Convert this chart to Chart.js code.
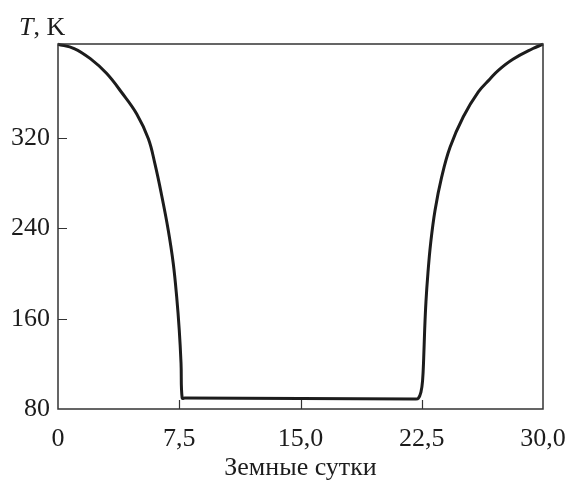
<!DOCTYPE html>
<html>
<head>
<meta charset="utf-8">
<script src="https://cdn.jsdelivr.net/npm/chart.js@4"></script>
<style>
  html, body { margin: 0; padding: 0; background: #fff; }
  #wrap { width: 565px; height: 484px; }
</style>
</head>
<body>
<div id="wrap"><canvas id="tempChart"></canvas></div>
<script>
// Данные
const days = [0, 1, 2, 3, 3.94, 4.87, 5.59, 6.0, 6.41, 6.82, 7.13, 7.34, 7.5, 7.61, 7.68, 7.85,
    15.0, 22.08, 22.29, 22.45, 22.55, 22.62, 22.68, 22.76, 22.88, 23.05, 23.32, 23.73, 24.25,
    25.07, 26.0, 26.72, 27.22, 28.14, 29.38, 30];
const temps = [403.3, 399.5, 390.5, 377.5, 360.5, 341.5, 319.5, 297, 269.5, 238.5, 209, 179.5, 150, 120.5, 89.7, 89.7,
    89.3, 88.9, 89.5, 95, 105, 125, 150, 175, 200, 226.8, 256, 285.5, 312,
    339, 361, 372.5, 380, 390, 399.5, 403.3];
const xTicks = [0, 7.5, 15, 22.5, 30];
const yTicks = [80, 160, 240, 320];

const serif = '"Liberation Serif", "Times New Roman", serif';
const ink = '#1c1c1c';

// рамка, засечки внутрь и подпись оси T
const framePlugin = {
    id: 'frame',
    afterDraw(chart) {
        const ctx = chart.ctx;
        const a = chart.chartArea;
        const x = chart.scales.x;
        const y = chart.scales.y;
        ctx.save();
        ctx.strokeStyle = '#333';
        ctx.lineWidth = 1.5;
        ctx.strokeRect(a.left, a.top, a.right - a.left, a.bottom - a.top);
        ctx.beginPath();
        xTicks.slice(1, -1).forEach(v => {
            const px = Math.round(x.getPixelForValue(v)) + 0.5;
            ctx.moveTo(px, a.bottom);
            ctx.lineTo(px, a.bottom - 9);
        });
        yTicks.slice(1).forEach(v => {
            const py = Math.round(y.getPixelForValue(v)) + 0.5;
            ctx.moveTo(a.left, py);
            ctx.lineTo(a.left + 9, py);
        });
        ctx.lineWidth = 1.2;
        ctx.stroke();

        ctx.fillStyle = ink;
        ctx.textBaseline = 'alphabetic';
        ctx.font = 'italic 26px ' + serif;
        ctx.fillText('T', 19, 35);
        const w = ctx.measureText('T').width;
        ctx.font = '26px ' + serif;
        ctx.fillText(', K', 19 + w, 35);
        ctx.restore();
    }
};

const ctxTemp = document.getElementById('tempChart').getContext('2d');

const tempChart = new Chart(ctxTemp, {
    type: 'line',
    data: {
        labels: days,
        datasets: [{
            data: days.map((d, i) => ({ x: d, y: temps[i] })),
            borderColor: ink,
            borderWidth: 3,
            borderJoinStyle: 'round',
            pointRadius: 0,
            tension: 0.4,
            clip: false
        }]
    },
    options: {
        responsive: true,
        maintainAspectRatio: false,
        animation: false,
        layout: { padding: { left: 0, right: 22, top: 44, bottom: 0 } },
        plugins: {
            legend: { display: false },
            tooltip: { enabled: false }
        },
        scales: {
            x: {
                type: 'linear',
                min: 0,
                max: 30,
                afterBuildTicks: s => { s.ticks = xTicks.map(v => ({ value: v })); },
                afterFit: s => {
                    s.height = 75;
                    s.paddingLeft = 0;
                    s.paddingRight = 0;
                },
                grid: { display: false, drawTicks: false },
                border: { display: false },
                ticks: {
                    padding: 15,
                    color: ink,
                    font: { family: serif, size: 26 },
                    maxRotation: 0,
                    callback: v => v === 0 ? '0' : v.toFixed(1).replace('.', ',')
                },
                title: {
                    display: true,
                    text: 'Земные сутки',
                    color: ink,
                    font: { family: serif, size: 26 },
                    padding: { top: 0, bottom: 0 }
                }
            },
            y: {
                min: 80,
                max: 403.5,
                afterBuildTicks: s => { s.ticks = yTicks.map(v => ({ value: v })); },
                afterFit: s => {
                    s.width = 58;
                    s.paddingTop = 0;
                    s.paddingBottom = 0;
                },
                grid: { display: false, drawTicks: false },
                border: { display: false },
                ticks: {
                    padding: 8,
                    color: ink,
                    font: { family: serif, size: 26 }
                }
            }
        }
    },
    plugins: [framePlugin]
});
</script>
</body>
</html>
